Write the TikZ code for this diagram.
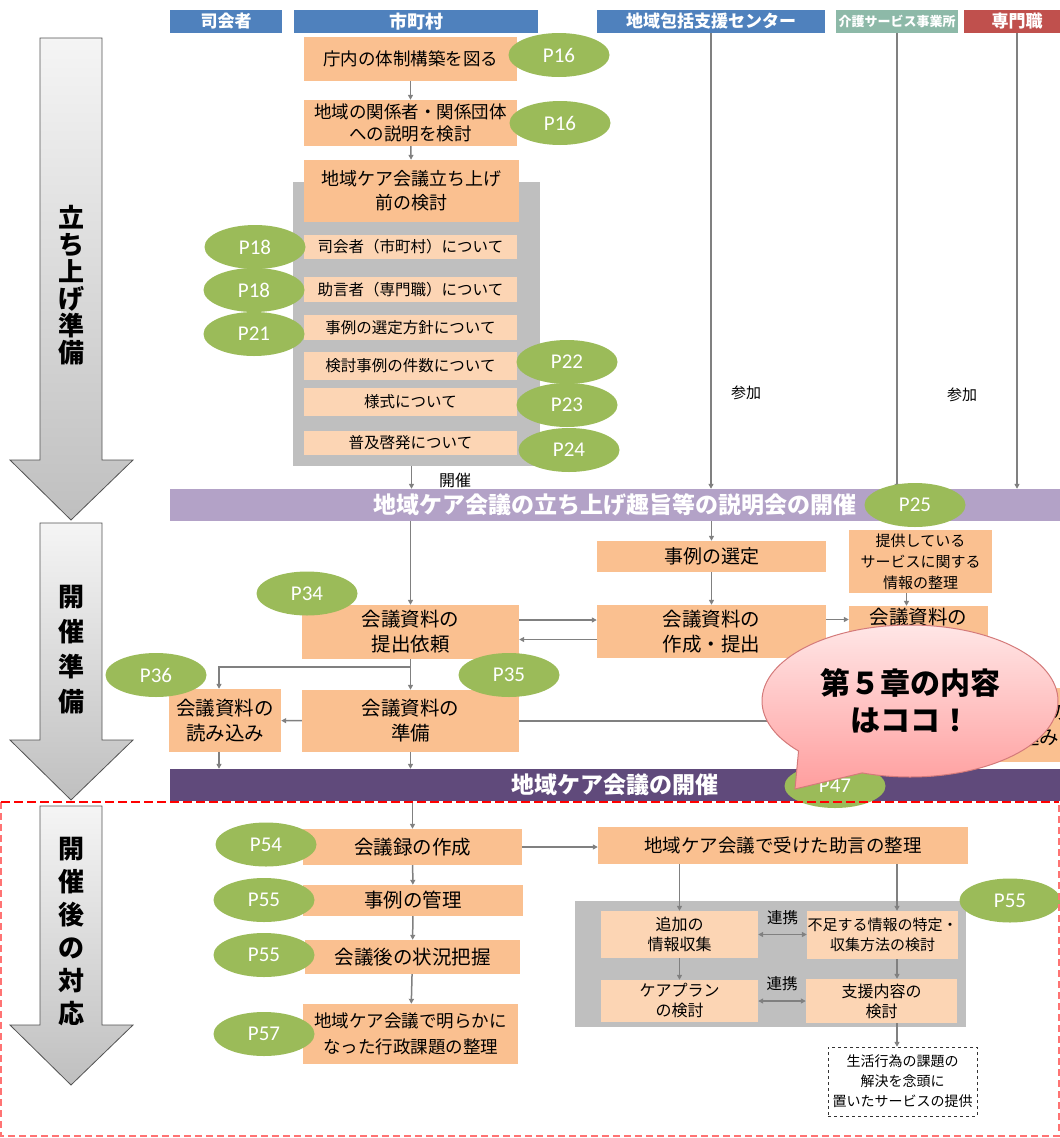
\documentclass[tikz,border=0pt]{standalone}
\usepackage{fontspec}
\newfontfamily\jp{Noto Sans CJK JP}
\newfontfamily\pfont{Carlito}
\usetikzlibrary{arrows.meta,shapes.geometric,shapes.callouts}
\newcommand\jpsize[2]{\fontsize{#1}{#2}\selectfont}

\definecolor{hdrblue}{HTML}{4F81BD}
\definecolor{hdrteal}{HTML}{8DB9A8}
\definecolor{hdrred}{HTML}{C0504D}
\definecolor{boxorange}{HTML}{FAC090}
\definecolor{boxlight}{HTML}{FCD5B4}
\definecolor{pgreen}{HTML}{9BBB59}
\definecolor{panelgray}{HTML}{BFBFBF}
\definecolor{barlight}{HTML}{B3A2C7}
\definecolor{bardark}{HTML}{604A7B}
\definecolor{linegray}{HTML}{808080}
\definecolor{pinktop}{HTML}{FFE6E6}
\definecolor{pinkbot}{HTML}{FF9E9E}
\definecolor{pinkedge}{HTML}{D47A7A}

\tikzset{
  hdr/.style={fill=#1, text=white, inner sep=0pt, minimum height=23, font=\jp\bfseries\jpsize{17}{20}},
  box/.style={fill=boxorange, inner sep=0pt, align=center, font=\jp\jpsize{19.5}{25}},
  subbox/.style={fill=boxlight, inner sep=0pt, align=center, minimum width=213, font=\jp\jpsize{15.5}{18}},
  panel/.style={fill=panelgray, inner sep=0pt},
  bar/.style={fill=#1, text=white, inner sep=0pt, minimum width=890, minimum height=32, font=\jp\bfseries\jpsize{23}{26}},
  pagetag/.style={ellipse, fill=pgreen, text=white, inner sep=0pt, minimum width=101, minimum height=44, font=\pfont\jpsize{21}{23}},
  note/.style={inner sep=0pt, font=\jp\jpsize{15}{18}},
  phase/.style={inner sep=0pt, align=center, font=\jp\bfseries\jpsize{26}{27}},
  phasearrow/.style={draw=gray!65!black, line width=0.8pt, top color=gray!8, bottom color=gray!50},
  flow/.style={draw=linegray, line width=1.5pt, -{Triangle[length=5pt,width=5pt]}},
  link/.style={draw=linegray, line width=1.5pt, {Triangle[length=5pt,width=5pt]}-{Triangle[length=5pt,width=5pt]}}
}

\begin{document}
\begin{tikzpicture}[x=1pt,y=-1pt]
  \useasboundingbox (0,0) rectangle (1060,1138);
  \clip (0,0) rectangle (1060,1138);

  % phases on the left
  \foreach \t/\h/\e in {38/460/520,523/740/800,806/1025/1085}
    \draw[phasearrow] (40,\t) -- (102,\t) -- (102,\h) -- (133,\h) -- (71,\e) -- (10,\h) -- (40,\h) -- cycle;
  \node[phase] (ph1) at (71,285) {立\\ち\\上\\げ\\準\\備};
  \node[phase, font=\jp\bfseries\jpsize{26}{35}] (ph2) at (71,650) {開\\催\\準\\備};
  \node[phase, font=\jp\bfseries\jpsize{26}{33}] (ph3) at (71,932) {開\\催\\後\\の\\対\\応};

  % column headers
  \node[hdr=hdrblue, minimum width=112] (h1) at (226,21.5) {司会者};
  \node[hdr=hdrblue, minimum width=244, font=\jp\bfseries\jpsize{18}{20}] (h2) at (416,21.5) {市町村};
  \node[hdr=hdrblue, minimum width=228] (h3) at (711,21.5) {地域包括支援センター};
  \node[hdr=hdrteal, minimum width=122, font=\jp\bfseries\jpsize{13}{15}] (h4) at (897,21.5) {介護サービス事業所};
  \node[hdr=hdrred, minimum width=106] (h5) at (1017,21.5) {専門職};

  % set-up preparation
  \node[panel, minimum width=247, minimum height=284] (prep) at (416.5,324) {};
  \node[box, minimum width=213, minimum height=44, font=\jp\jpsize{17.5}{22}] (a1) at (410.5,59) {庁内の体制構築を図る};
  \node[box, minimum width=213, minimum height=46, font=\jp\jpsize{17.5}{22}] (a2) at (410.5,123) {地域の関係者・関係団体\\への説明を検討};
  \node[box, minimum width=215, minimum height=62, font=\jp\jpsize{18}{24}] (a3) at (411.5,191) {地域ケア会議立ち上げ\\前の検討};
  \node[subbox, minimum height=24] (s1) at (410.5,247) {司会者（市町村）について};
  \node[subbox, minimum height=25] (s2) at (410.5,289.5) {助言者（専門職）について};
  \node[subbox, minimum height=25] (s3) at (410.5,327.5) {事例の選定方針について};
  \node[subbox, minimum height=28] (s4) at (410.5,366) {検討事例の件数について};
  \node[subbox, minimum height=28] (s5) at (410.5,402) {様式について};
  \node[subbox, minimum height=24] (s6) at (410.5,443) {普及啓発について};

  \node[bar=barlight] (setup) at (615,505) {地域ケア会議の立ち上げ趣旨等の説明会の開催};

  \draw[flow] (a1) -- (a2);
  \draw[flow] (a2) -- (a3);
  \draw[flow] (prep.south -| a3.south) -- (setup.north -| a3.south);
  \node[note, font=\jp\jpsize{16}{18}] (open) at (455,480) {開催};
  \draw[flow] (h3.south) -- (h3.south |- setup.north);
  \draw[flow] (h4.south) -- (h4.south |- setup.north);
  \draw[flow] (h5.south) -- (h5.south |- setup.north);
  \node[note] (join1) at (746,393) {参加};
  \node[note] (join2) at (962,395) {参加};

  % meeting preparation
  \node[box, minimum width=217, minimum height=54] (req) at (410.5,632) {会議資料の\\提出依頼};
  \node[box, minimum width=229, minimum height=31, font=\jp\jpsize{19}{22}] (sel) at (711.5,556.5) {事例の選定};
  \node[box, minimum width=229, minimum height=53] (make) at (711.5,631.5) {会議資料の\\作成・提出};
  \node[box, minimum width=143, minimum height=63, font=\jp\jpsize{15}{21}] (info) at (920.5,561.5) {提供している\\サービスに関する\\情報の整理};
  \node[box, minimum width=139, minimum height=54] (make2) at (918.5,633) {会議資料の\\\strut};
  \node[box, minimum width=217, minimum height=62] (prepd) at (410.5,721) {会議資料の\\準備};
  \node[box, minimum width=112, minimum height=63] (read) at (225,720.5) {会議資料の\\読み込み};
  \node[box, minimum width=112, minimum height=74] (read2) at (1020,725) {会議資料の\\読み込み};

  \node[bar=bardark] (meet) at (615,785) {地域ケア会議の開催};

  \draw[flow] (setup.south -| req.north) -- (req.north);
  \draw[flow] (setup.south -| sel.north) -- (sel.north);
  \draw[flow] (sel) -- (make);
  \draw[flow] ([yshift=12]req.east) -- ([yshift=12]req.east -| make.west);
  \draw[flow] ([yshift=-8]make.west) -- ([yshift=-8]make.west -| req.east);
  \draw[flow] ([yshift=12]make.east) -- ([yshift=12]make.east -| make2.west);
  \draw[flow] ([xshift=-14]info.south) -- ([xshift=-14]info.south |- make2.north);
  \draw[flow] (req) -- (prepd);
  \draw[flow] ([yshift=-8]req.south) -| ([xshift=-6]read.north);
  \draw[flow] (prepd) -- (read);
  \draw[flow] (prepd.east) -- (prepd.east -| read2.west);
  \draw[flow] ([xshift=-6]read.south) -- ([xshift=-6]read.south |- meet.north);
  \draw[flow] (prepd.south) -- (prepd.south |- meet.north);

  % after the meeting
  \node[box, minimum width=219, minimum height=36] (c1) at (412.5,847) {会議録の作成};
  \node[box, minimum width=220, minimum height=31] (c2) at (413,900.5) {事例の管理};
  \node[box, minimum width=215, minimum height=34] (c3) at (412.5,957) {会議後の状況把握};
  \node[box, minimum width=215, minimum height=60, font=\jp\jpsize{17.5}{26}] (c4) at (410.5,1034) {地域ケア会議で明らかに\\なった行政課題の整理};
  \node[box, minimum width=370, minimum height=37, font=\jp\jpsize{18.5}{22}] (d1) at (783,845.5) {地域ケア会議で受けた助言の整理};
  \node[panel, minimum width=391, minimum height=126] (advice) at (770.5,964) {};
  \node[subbox, minimum width=157, minimum height=47, font=\jp\jpsize{16}{20}] (d2) at (679.5,934.5) {追加の\\情報収集};
  \node[subbox, minimum width=151, minimum height=48, font=\jp\jpsize{15}{20}] (d3) at (882.5,935) {不足する情報の特定・\\収集方法の検討};
  \node[subbox, minimum width=157, minimum height=42, font=\jp\jpsize{16}{20}] (d4) at (679.5,1001) {ケアプラン\\の検討};
  \node[subbox, minimum width=151, minimum height=44, font=\jp\jpsize{16}{20}] (d5) at (881.5,1001) {支援内容の\\検討};
  \node[draw=black!80, dashed, fill=white, inner sep=0pt, align=center, minimum width=149, minimum height=69, font=\jp\jpsize{14}{20}] (d6) at (902.5,1081.5) {生活行為の課題の\\解決を念頭に\\置いたサービスの提供};

  \draw[flow] (meet.south -| c1.north) -- (c1.north);
  \draw[flow] (c1) -- (c2);
  \draw[flow] (c2) -- (c3);
  \draw[flow] (c3) -- (c4);
  \draw[flow] (c1.east) -- (c1.east -| d1.west);
  \draw[flow] (d2.north |- d1.south) -- (d2.north);
  \draw[flow] ([xshift=14.5]d3.north |- d1.south) -- ([xshift=14.5]d3.north);
  \draw[flow] (d2) -- (d4);
  \draw[flow] ([xshift=14.5]d3.south) -- ([xshift=14.5]d3.south |- d5.north);
  \draw[flow] ([xshift=-5.5]d6.north |- d5.south) -- ([xshift=-5.5]d6.north);
  \draw[link] (d2.east) -- node[note, above=9pt, font=\jp\jpsize{15.5}{18}] (tie1) {連携} (d2.east -| d3.west);
  \draw[link] (d4.east) -- node[note, above=9pt, font=\jp\jpsize{15.5}{18}] (tie2) {連携} (d4.east -| d5.west);

  % page references
  \node[pagetag] (p16a) at (559,55) {P16};
  \node[pagetag] (p16b) at (560,123) {P16};
  \node[pagetag] (p18a) at (255,247) {P18};
  \node[pagetag] (p18b) at (254,290) {P18};
  \node[pagetag] (p21) at (254,334) {P21};
  \node[pagetag] (p22) at (567,362) {P22};
  \node[pagetag] (p23) at (567,405) {P23};
  \node[pagetag] (p24) at (569,450) {P24};
  \node[pagetag] (p25) at (915,505) {P25};
  \node[pagetag] (p34) at (307,593.5) {P34};
  \node[pagetag] (p36) at (156,675) {P36};
  \node[pagetag] (p35) at (509,675) {P35};
  \node[pagetag] (p47) at (835,786) {P47};
  \node[pagetag] (p54) at (266,844.5) {P54};
  \node[pagetag] (p55a) at (264,900) {P55};
  \node[pagetag] (p55b) at (264,955) {P55};
  \node[pagetag] (p57) at (264,1034) {P57};
  \node[pagetag] (p55c) at (1010,900.5) {P55};

  % after-meeting frame
  \draw[red!55, dashed, dash pattern=on 7pt off 4pt, line width=1.2pt] (1,802) -- (1,1136) -- (1059,1136) -- (1059,802);
  \draw[red, dash pattern=on 9pt off 4pt, line width=2pt] (1,802) -- (1059,802);

  % speech bubble
  \node[ellipse callout, callout absolute pointer={(795,789)}, callout pointer arc=30, draw=pinkedge, line width=1pt, top color=pinktop, bottom color=pinkbot, minimum width=296, minimum height=152, inner sep=0pt, align=center, font=\jp\bfseries\jpsize{30}{37}] (ch5) at (910,701) {第５章の内容\\はココ！};
\end{tikzpicture}
\end{document}
